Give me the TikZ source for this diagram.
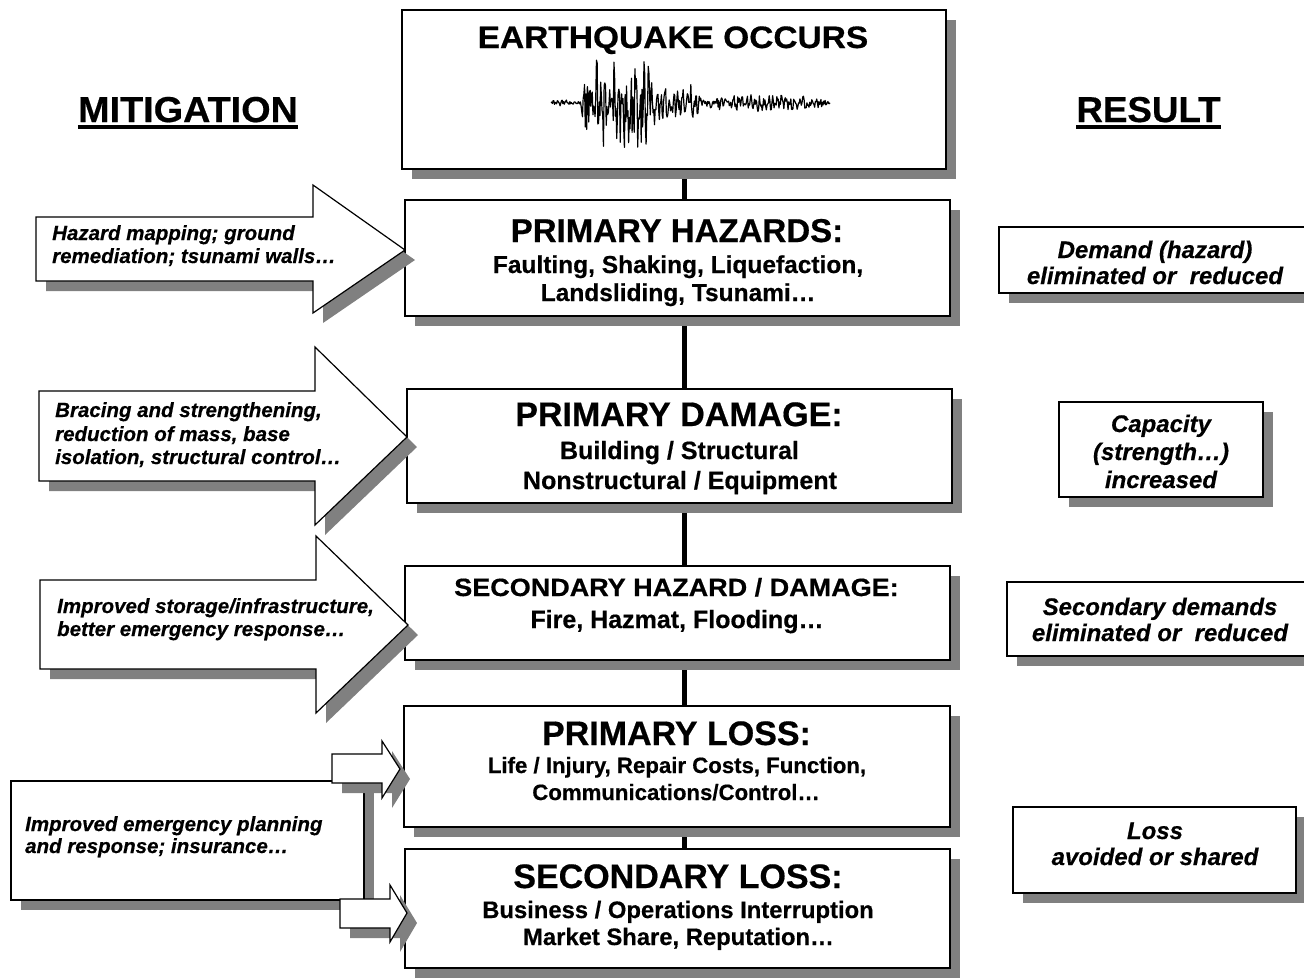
\documentclass[tikz,border=0pt]{standalone}
\usepackage{fontspec}
\setmainfont{Liberation Sans}[BoldFeatures={FakeBold=0.5},BoldItalicFeatures={FakeBold=0.5}]
\usepackage{graphicx}
\pgfdeclarelayer{bg}
\pgfsetlayers{bg,main}
\definecolor{shadowgray}{RGB}{128,128,128}
\newcommand\myfs[1]{\fontsize{#1}{#1}\selectfont}
\begin{document}
\begin{tikzpicture}[x=1pt,y=-1pt,
  shadowed/.style={preaction={fill=shadowgray,draw=none,transform canvas={shift={(10pt,-10pt)}}}},
  box/.style={shadowed,draw=black,line width=1.2pt,fill=white,rectangle,inner sep=0pt,outer sep=0pt,anchor=north west},
  blk/.style={shadowed,draw=black,line width=1.2pt,fill=white,line join=miter},
  t/.style={inner sep=0pt,anchor=base},
  tl/.style={inner sep=0pt,anchor=base west},
  ttl/.style={t,font=\myfs{34}\bfseries},
  lft/.style={tl,font=\myfs{20.5}\bfseries\itshape},
  rgt/.style={t,font=\myfs{24}\bfseries\itshape},
]
\useasboundingbox (0,0) rectangle (1304,978);
\coordinate (spine) at (684,0);

% headings
\node[t] (mit) at (188,122) {\myfs{36}\bfseries\scalebox{1.05}[1]{MITIGATION}};
\draw[line width=3.8pt] ([yshift=-5pt]mit.base west) -- ([yshift=-5pt]mit.base east);
\node[t] (res) at (1148.5,122) {\myfs{36}\bfseries\scalebox{1.02}[1]{RESULT}};
\draw[line width=3.8pt] ([yshift=-5pt]res.base west) -- ([yshift=-5pt]res.base east);

% central chain
\node[box,minimum width=544pt,minimum height=159pt] (eq) at (402,10) {};
\node[box,minimum width=545pt,minimum height=116pt] (haz) at (405,200) {};
\node[box,minimum width=545pt,minimum height=114pt] (dam) at (407,389) {};
\node[box,minimum width=545pt,minimum height=94pt] (sec) at (405,566) {};
\node[box,minimum width=546pt,minimum height=121pt] (ploss) at (404,706) {};
\node[box,minimum width=545pt,minimum height=119pt] (sloss) at (405,849) {};

\begin{pgfonlayer}{bg}
\draw[line width=5pt] (eq.south -| spine) -- (haz.north -| spine);
\draw[line width=5pt] (haz.south -| spine) -- (dam.north -| spine);
\draw[line width=5pt] (dam.south -| spine) -- (sec.north -| spine);
\draw[line width=5pt] (sec.south -| spine) -- (ploss.north -| spine);
\draw[line width=5pt] (ploss.south -| spine) -- (sloss.north -| spine);
\end{pgfonlayer}

% earthquake
\node[t] (eqt) at (673,48) {\myfs{31}\bfseries\scalebox{1.08}[1]{EARTHQUAKE OCCURS}};
\pgfmathsetseed{17}
\draw[line width=1.2pt,line join=round] plot[samples=400,domain=551:830,variable=\x]
  ({\x},{103+(3+43*max(0,1-min(((\x-618)/38)*((\x-618)/38),3)^4)+17*max(0,1-min(((\x-678)/26)*((\x-678)/26),3)^3)+6*max(0,1-min(((\x-765)/62)*((\x-765)/62),3)^2))*(0.35*sin(mod(\x,4.3)*83.72)+0.65*rand)});

% texts of chain
\node[t] (hazt) at (677,242) {\myfs{33}\bfseries PRIMARY HAZARDS:};
\node[t] (haz1) at (678,273) {\myfs{24.5}\bfseries Faulting, Shaking, Liquefaction,};
\node[t] (haz2) at (678,301) {\myfs{24.5}\bfseries Landsliding, Tsunami…};

\node[ttl] (damt) at (679,426) {PRIMARY DAMAGE:};
\node[t] (dam1) at (679.5,459) {\myfs{25}\bfseries Building / Structural};
\node[t] (dam2) at (680,489) {\myfs{25}\bfseries Nonstructural / Equipment};

\node[t] (sect) at (676.5,596) {\myfs{25}\bfseries\scalebox{1.08}[1]{SECONDARY HAZARD / DAMAGE:}};
\node[t] (sec1) at (677,628) {\myfs{25}\bfseries Fire, Hazmat, Flooding…};

\node[ttl] (plosst) at (676.5,745) {PRIMARY LOSS:};
\node[t] (ploss1) at (677,773) {\myfs{22.2}\bfseries Life / Injury, Repair Costs, Function,};
\node[t] (ploss2) at (676,800) {\myfs{22.2}\bfseries Communications/Control…};

\node[ttl] (slosst) at (678,888) {SECONDARY LOSS:};
\node[t] (sloss1) at (678,918) {\myfs{23.8}\bfseries Business / Operations Interruption};
\node[t] (sloss2) at (678.5,945) {\myfs{23.8}\bfseries Market Share, Reputation…};

% mitigation arrows
\path[blk] (36,217) -- (313,217) -- (313,185) -- (405,250) -- (313,313) -- (313,281) -- (36,281) -- cycle;
\node[lft] (m1a) at (52,240) {Hazard mapping; ground};
\node[lft] (m1b) at (52,263) {remediation; tsunami walls…};

\path[blk] (39,391) -- (315,391) -- (315,347) -- (407,437) -- (315,525) -- (315,481) -- (39,481) -- cycle;
\node[lft] (m2a) at (55,417) {Bracing and strengthening,};
\node[lft] (m2b) at (55,441) {reduction of mass, base};
\node[lft] (m2c) at (55,464) {isolation, structural control…};

\path[blk] (40,580) -- (316,580) -- (316,536) -- (408,625) -- (316,713) -- (316,669) -- (40,669) -- cycle;
\node[lft] (m3a) at (57,613) {Improved storage/infrastructure,};
\node[lft] (m3b) at (57,636) {better emergency response…};

\node[box,minimum width=353pt,minimum height=119pt] (plan) at (11,781) {};
\node[lft] (m4a) at (25,831) {Improved emergency planning};
\node[lft] (m4b) at (25,853) {and response; insurance…};
\path[blk] (332,754) -- (382,754) -- (382,741) -- (400,769) -- (382,798) -- (382,783) -- (332,783) -- cycle;
\path[blk] (340,899) -- (390,899) -- (390,885) -- (407,913) -- (390,942) -- (390,928) -- (340,928) -- cycle;

% results
\node[box,minimum width=308pt,minimum height=66pt] (demand) at (999,227) {};
\node[rgt] (r1a) at (1155,258) {Demand (hazard)};
\node[rgt] (r1b) at (1155,284) {eliminated or~ reduced};

\node[box,minimum width=204pt,minimum height=95pt] (capa) at (1059,402) {};
\node[rgt] (r2a) at (1161,432) {Capacity};
\node[rgt] (r2b) at (1161,460) {(strength…)};
\node[rgt] (r2c) at (1161,488) {increased};

\node[box,minimum width=300pt,minimum height=74pt] (secd) at (1007,582) {};
\node[rgt] (r3a) at (1160,615) {Secondary demands};
\node[rgt] (r3b) at (1160,641) {eliminated or~ reduced};

\node[box,minimum width=283pt,minimum height=86pt] (loss) at (1013,807) {};
\node[rgt] (r4a) at (1155,839) {Loss};
\node[rgt] (r4b) at (1155,865) {avoided or shared};
\end{tikzpicture}
\end{document}
